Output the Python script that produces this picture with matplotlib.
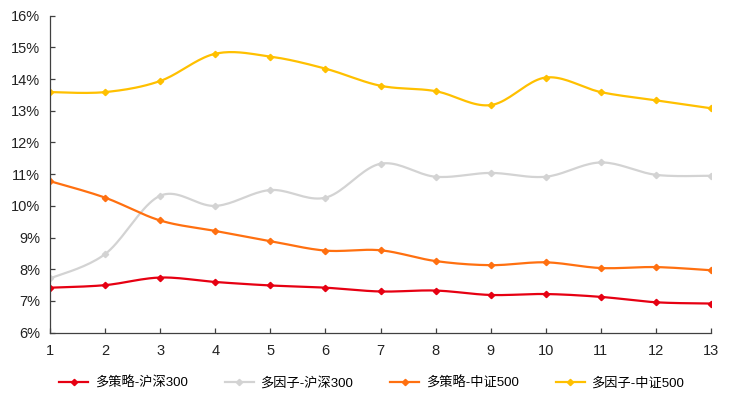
import numpy as np
import matplotlib
matplotlib.use('Agg')
from matplotlib import pyplot as plt
from matplotlib.lines import Line2D
from matplotlib.ticker import FuncFormatter

plt.rcParams['font.family'] = ['Liberation Sans', 'Noto Sans CJK SC', 'DejaVu Sans']

# 数据
x = np.arange(1, 14)
labels = ['多策略-沪深300', '多因子-沪深300', '多策略-中证500', '多因子-中证500']
ms_hs300 = [7.42, 7.50, 7.74, 7.60, 7.49, 7.42, 7.30, 7.33, 7.19, 7.22, 7.13, 6.96, 6.92]
mf_hs300 = [7.71, 8.48, 10.32, 10.00, 10.50, 10.26, 11.33, 10.92, 11.04, 10.92, 11.37, 10.98, 10.95]
ms_zz500 = [10.78, 10.26, 9.54, 9.21, 8.89, 8.59, 8.60, 8.26, 8.13, 8.22, 8.04, 8.07, 7.97]
mf_zz500 = [13.59, 13.59, 13.94, 14.80, 14.71, 14.33, 13.79, 13.62, 13.18, 14.05, 13.59, 13.33, 13.08]
colors = ['#E60012', '#D3D3D3', '#FF7010', '#FFC000']
series = [ms_hs300, mf_hs300, ms_zz500, mf_zz500]


def smooth(xs, ys, n=20):
    # Excel 风格的平滑线（Catmull-Rom 贝塞尔）
    p = np.column_stack([xs, ys]).astype(float)
    p = np.vstack([p[0], p, p[-1]])
    out = []
    t = np.linspace(0, 1, n, endpoint=False)[:, None]
    for i in range(1, len(p) - 2):
        p0, p1, p2, p3 = p[i - 1], p[i], p[i + 1], p[i + 2]
        c1 = p1 + (p2 - p0) / 6
        c2 = p2 - (p3 - p1) / 6
        seg = ((1 - t) ** 3) * p1 + 3 * ((1 - t) ** 2) * t * c1 + 3 * (1 - t) * t ** 2 * c2 + t ** 3 * p2
        out.append(seg)
    out.append(p[-2][None, :])
    out = np.vstack(out)
    return out[:, 0], out[:, 1]


fig = plt.figure(figsize=(7.29, 3.99), dpi=100)
ax = fig.add_axes([50 / 729, 1 - 332.7 / 399, 661 / 729, 317 / 399])

handles = []
for ys, c, lab in zip(series, colors, labels):
    sx, sy = smooth(x, ys)
    ax.plot(sx, sy, color=c, lw=1.6, solid_capstyle='round')
    ax.plot(x, ys, ls='none', marker='D', ms=3.2, color=c)
    handles.append(Line2D([], [], color=c, lw=1.6, marker='D', ms=3.2, label=lab))

ax.set_xlim(1, 13)
ax.set_ylim(6, 16)
ax.set_xticks(x)
ax.set_yticks(np.arange(6, 17, 1))
ax.yaxis.set_major_formatter(FuncFormatter(lambda v, _: f'{v:.0f}%'))
for s in ['top', 'right']:
    ax.spines[s].set_visible(False)
for s in ['left', 'bottom']:
    ax.spines[s].set_color('#404040')
    ax.spines[s].set_linewidth(0.9)
ax.tick_params(direction='in', length=3.5, width=0.9, color='#404040', labelsize=10.5, colors='#222222')
ax.tick_params(axis='x', pad=8)
ax.tick_params(axis='y', pad=7)

fig.legend(handles=handles, loc='center', bbox_to_anchor=(0.51, 0.04), ncol=4, frameon=False,
           fontsize=9.5, handlelength=2.2, handletextpad=0.5, columnspacing=2.8)

fig.savefig('out.png', dpi=100)
